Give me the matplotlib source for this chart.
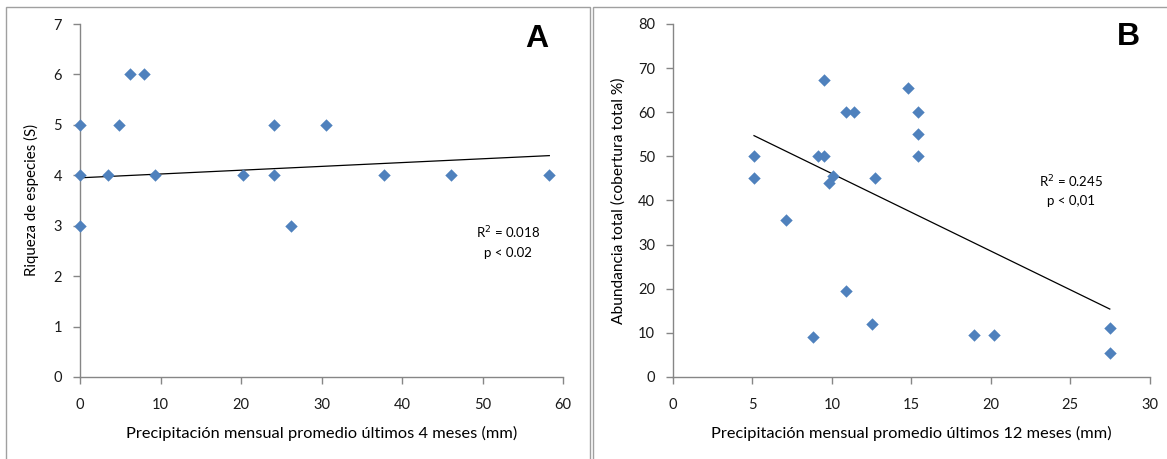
import matplotlib.pyplot as plt
from matplotlib.patches import Rectangle

# -------------------------------
# Data
# -------------------------------
# Panel A: riqueza vs precipitacion 4 meses
precip_4m = [0, 0, 0, 3.5, 4.8, 6.2, 8.0, 9.3, 20.3, 24.1, 24.1, 26.2, 30.5, 37.8, 46.1, 58.3]
riqueza = [5, 4, 3, 4, 5, 6, 6, 4, 4, 5, 4, 3, 5, 4, 4, 4]
trend_a_x = [0, 58.3]
trend_a_y = [3.95, 4.39]

# Panel B: abundancia vs precipitacion 12 meses
precip_12m = [5.1, 5.1, 7.1, 8.8, 9.1, 9.5, 9.5, 9.8, 10.1, 10.9, 11.4, 10.9,
              12.5, 12.7, 14.8, 15.4, 15.4, 15.4, 18.95, 20.2, 27.5, 27.5]
abundancia = [50, 45, 35.5, 9, 50, 50, 67.4, 44, 45.5, 60, 60, 19.5,
              12, 45, 65.4, 60, 55, 50, 9.5, 9.5, 11, 5.5]
trend_b_x = [5.1, 27.5]
trend_b_y = [54.7, 15.4]

W, H = 1167, 459
FONT = "Lato"
BLUE = "#4F81BD"
SPINE = "#868686"

fig = plt.figure(figsize=(W / 100, H / 100), dpi=100)
fig.patch.set_facecolor("white")

# panel frames
for x0, x1 in [(5.5, 589.5), (592.5, 1175)]:
    fig.patches.append(Rectangle((x0 / W, -0.05), (x1 - x0) / W, (H - 6.5) / H + 0.05,
                                 transform=fig.transFigure, fill=False,
                                 edgecolor="#a0a0a0", linewidth=1.0))


def style_axis(ax):
    for side in ["top", "right"]:
        ax.spines[side].set_visible(False)
    for side in ["left", "bottom"]:
        ax.spines[side].set_color(SPINE)
        ax.spines[side].set_linewidth(1.0)
    ax.tick_params(axis="both", colors=SPINE, labelcolor="#1a1a1a", length=5, width=1.0,
                   labelsize=10.5)
    ax.tick_params(axis="y", pad=8)
    ax.tick_params(axis="x", pad=10)
    for lab in ax.get_xticklabels() + ax.get_yticklabels():
        lab.set_fontfamily(FONT)


def bottom(y):
    return (H - y) / H


# -------------------------------
# Panel A
# -------------------------------
axA = fig.add_axes([80 / W, bottom(377), (563 - 80) / W, (377 - 24) / H])
axA.scatter(precip_4m, riqueza, marker="D", s=40, color=BLUE, zorder=3, clip_on=False,
            linewidths=0)
axA.plot(trend_a_x, trend_a_y, color="black", linewidth=0.9, zorder=2)
axA.set_xlim(0, 60)
axA.set_ylim(0, 7)
axA.set_xticks(range(0, 61, 10))
axA.set_yticks(range(0, 8))
style_axis(axA)
axA.set_xlabel("Precipitación mensual promedio últimos 4 meses (mm)", fontsize=11.8,
               fontfamily=FONT, labelpad=10)
axA.set_ylabel("Riqueza de especies (S)", fontsize=10.8, fontfamily=FONT, labelpad=10)
axA.text(508 / W, bottom(233), "R$^2$ = 0.018", transform=fig.transFigure, ha="center",
         va="center", fontsize=9.5, fontfamily=FONT)
axA.text(508 / W, bottom(253), "p < 0.02", transform=fig.transFigure, ha="center",
         va="center", fontsize=9.5, fontfamily=FONT)
axA.text(537 / W, bottom(39), "A", transform=fig.transFigure, ha="center", va="center",
         fontsize=23, fontweight="bold", fontfamily="Liberation Sans")

# -------------------------------
# Panel B
# -------------------------------
axB = fig.add_axes([673 / W, bottom(377), (1149.5 - 673) / W, (377 - 24) / H])
axB.scatter(precip_12m, abundancia, marker="D", s=40, color=BLUE, zorder=3, clip_on=False,
            linewidths=0)
axB.plot(trend_b_x, trend_b_y, color="black", linewidth=0.9, zorder=2)
axB.set_xlim(0, 30)
axB.set_ylim(0, 80)
axB.set_xticks(range(0, 31, 5))
axB.set_yticks(range(0, 81, 10))
style_axis(axB)
axB.set_xlabel("Precipitación mensual promedio últimos 12 meses (mm)", fontsize=11.8,
               fontfamily=FONT, labelpad=10)
axB.set_ylabel("Abundancia total (cobertura total %)", fontsize=11.2, fontfamily=FONT,
               labelpad=9)
axB.text(1071 / W, bottom(182), "R$^2$ = 0.245", transform=fig.transFigure, ha="center",
         va="center", fontsize=9.5, fontfamily=FONT)
axB.text(1071 / W, bottom(201), "p < 0,01", transform=fig.transFigure, ha="center",
         va="center", fontsize=9.5, fontfamily=FONT)
axB.text(1128 / W, bottom(37), "B", transform=fig.transFigure, ha="center", va="center",
         fontsize=23, fontweight="bold", fontfamily="Liberation Sans")

plt.savefig("out.png", dpi=100)
plt.close(fig)
